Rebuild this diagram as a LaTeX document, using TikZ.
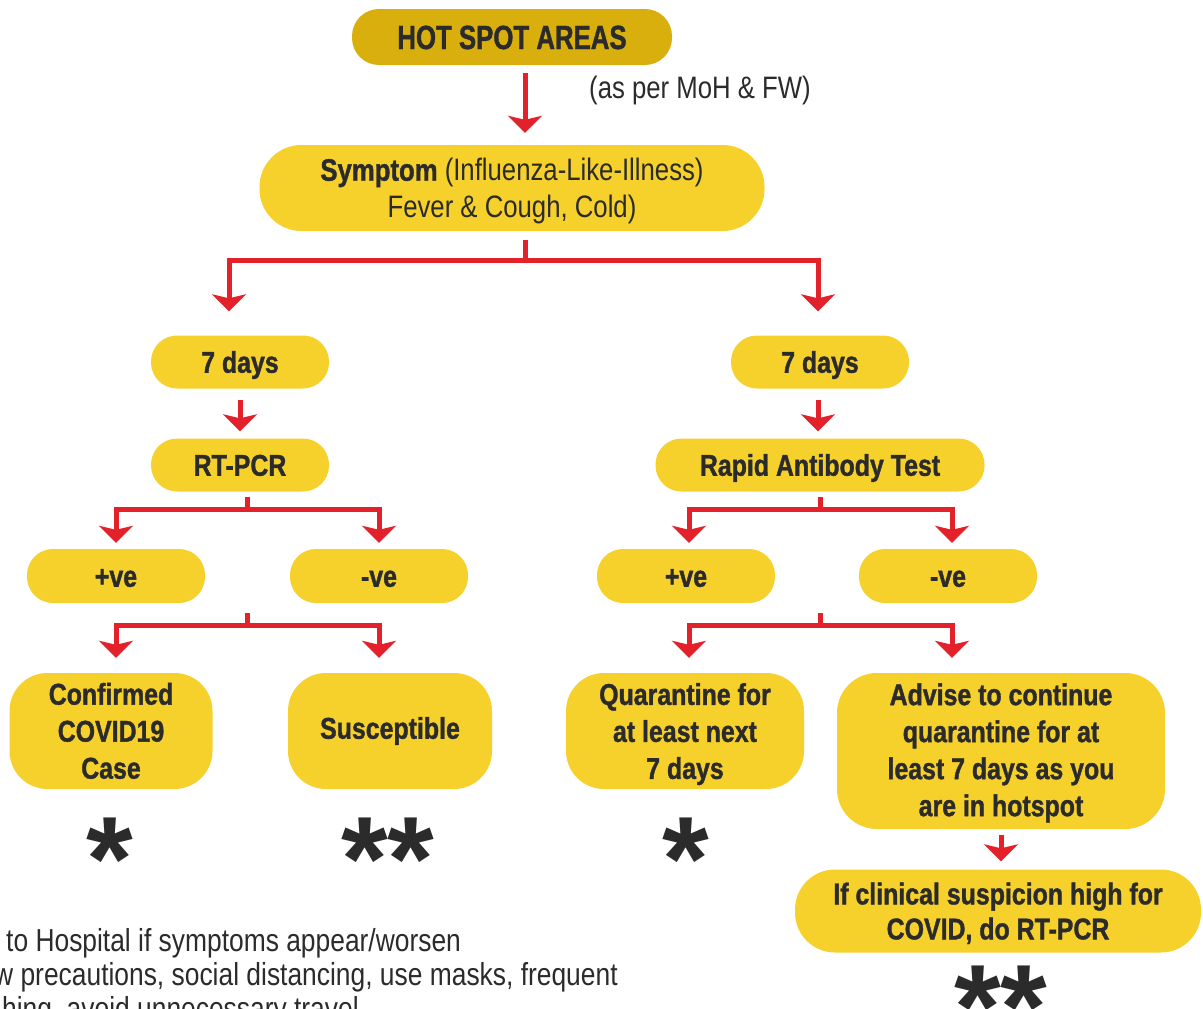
\documentclass[tikz,border=0pt]{standalone}
\usepackage{fontspec}
\setmainfont{Liberation Sans}[FakeStretch=0.83]
\newfontfamily\condbold{Liberation Sans}[FakeStretch=0.83,FakeBold=1.2]
\newfontfamily\titlebold{Liberation Sans}[FakeStretch=0.77,FakeBold=1.2]
\newfontfamily\starfont{Liberation Sans}
\usetikzlibrary{arrows.meta,calc}
\definecolor{gold}{HTML}{D8AF0C}
\definecolor{boxyellow}{HTML}{F6D02B}
\definecolor{linkred}{HTML}{E2212B}
\definecolor{ink}{HTML}{2B2B2B}
\begin{document}
\begin{tikzpicture}[x=1pt,y=-1pt,
  capsule/.style={fill=boxyellow, text=ink, align=center, inner sep=0pt,
    rounded corners=26pt, font=\condbold\bfseries\fontsize{30}{37}\selectfont,
    execute at begin node={\rule{0pt}{26pt}}, text depth=4.5pt},
  card/.style={capsule, rounded corners=38pt},
  link/.style={draw=linkred, line width=5pt, line join=miter,
    -{Stealth[length=17pt,width=34pt,inset=4pt]}},
  stars/.style={text=ink, font=\starfont\bfseries\fontsize{120}{120}\selectfont,
    inner sep=0pt, anchor=base},
  plain/.style={text=ink, inner sep=0pt, font=\fontsize{31}{37}\selectfont},
  footnote/.style={plain, anchor=base west, font=\fontsize{31.8}{37}\selectfont},
]
\useasboundingbox (0,0) rectangle (1203,1009);
\clip (0,0) rectangle (1203,1009);

% top of the chart
\node[capsule, fill=gold, minimum width=320pt, minimum height=56pt, rounded corners=27pt,
  font=\titlebold\bfseries\fontsize{33.5}{40}\selectfont, text depth=2pt] (hot) at (512,37) {HOT SPOT AREAS};
\node[plain] (moh) at (700,90) {(as per MoH \& FW)};
\node[capsule, minimum width=505pt, minimum height=86pt, rounded corners=42pt,
  font=\fontsize{31}{37}\selectfont, text depth=-2.2pt] (sym) at (512,188)
  {{\condbold\bfseries Symptom} (Influenza-Like-Illness)\\Fever \& Cough, Cold)};

% two testing branches
\node[capsule, minimum width=178pt, minimum height=53pt] (d1) at (240,362) {7 days};
\node[capsule, minimum width=178pt, minimum height=53pt] (d2) at (820,362) {7 days};
\node[capsule, minimum width=178pt, minimum height=53pt] (rt) at (240,465) {RT-PCR};
\node[capsule, minimum width=329pt, minimum height=53pt] (rat) at (820,465) {Rapid Antibody Test};

% results
\node[capsule, minimum width=178pt, minimum height=54pt] (p1) at (116,576) {+ve};
\node[capsule, minimum width=178pt, minimum height=54pt] (n1) at (379,576) {-ve};
\node[capsule, minimum width=178pt, minimum height=54pt] (p2) at (686,576) {+ve};
\node[capsule, minimum width=178pt, minimum height=54pt] (n2) at (948,576) {-ve};

% outcomes
\node[card, minimum width=203pt, minimum height=116pt, text depth=0.5pt] (conf) at (111,731) {Confirmed\\COVID19\\Case};
\node[card, minimum width=204pt, minimum height=116pt, text depth=10.5pt] (susc) at (390,731) {Susceptible};
\node[card, minimum width=238pt, minimum height=116pt, text depth=-1.5pt] (quar) at (685,731) {Quarantine for\\at least next\\7 days};
\node[card, minimum width=328pt, minimum height=156pt, rounded corners=40pt, text depth=2.5pt] (adv) at (1001,751)
  {Advise to continue\\quarantine for at\\least 7 days as you\\are in hotspot};
\node[card, minimum width=406pt, minimum height=83pt, rounded corners=40pt, text depth=-3.5pt,
  font=\condbold\bfseries\fontsize{30}{35}\selectfont] (ifc) at (998,911)
  {If clinical suspicion high for\\COVID, do RT-PCR};

% footnote markers
\node[stars] (st1) at (110,900) {*};
\node[stars] (st2) at (388,900) {**};
\node[stars] (st3) at (686,900) {*};
\node[stars] (st4) at (1001,1048) {**};

% connectors
\draw[link] ([xshift=13pt,yshift=-8pt]hot.south) -- ([xshift=13pt,yshift=12pt]sym.north);
\draw[link] ([xshift=13pt,yshift=-9pt]sym.south) -- ++(0,20) -| ([xshift=-11pt,yshift=24pt]d1.north);
\draw[link] ([xshift=13pt,yshift=-9pt]sym.south) -- ++(0,20) -| ([xshift=-2pt,yshift=24pt]d2.north);
\draw[link] ([yshift=-11pt]d1.south) -- ([yshift=7pt]rt.north);
\draw[link] ([xshift=-2pt,yshift=-11pt]d2.south) -- ([xshift=-2pt,yshift=7pt]rat.north);

\draw[link] ([xshift=7pt,yshift=-5pt]rt.south) -- ++(0,13) -| ([yshift=6pt]p1.north);
\draw[link] ([xshift=7pt,yshift=-5pt]rt.south) -- ++(0,13) -| ([yshift=6pt]n1.north);
\draw[link] ([yshift=-5pt]rat.south) -- ++(0,13) -| ([xshift=3pt,yshift=6pt]p2.north);
\draw[link] ([yshift=-5pt]rat.south) -- ++(0,13) -| ([xshift=4pt,yshift=6pt]n2.north);

\coordinate (m1) at ($(p1.south)!0.5!(n1.south)$);
\coordinate (m2) at ($(p2.south)!0.5!(n2.south)$);
\draw[link] ([yshift=-10pt]m1) -- ++(0,12) -| ([xshift=5pt,yshift=15pt]conf.north);
\draw[link] ([yshift=-10pt]m1) -- ++(0,12) -| ([xshift=-11pt,yshift=15pt]susc.north);
\draw[link] ([xshift=3pt,yshift=-10pt]m2) -- ++(0,12) -| ([xshift=4pt,yshift=15pt]quar.north);
\draw[link] ([xshift=3pt,yshift=-10pt]m2) -- ++(0,12) -| ([xshift=-49pt,yshift=15pt]adv.north);

\draw[link] ([yshift=-6pt]adv.south) -- ([xshift=3pt,yshift=8pt]ifc.north);

% footnotes
\node[footnote] (fn1) at (6,951) {to Hospital if symptoms appear/worsen};
\node[footnote] (fn2) at (-6,985) {w precautions, social distancing, use masks, frequent};
\node[footnote] (fn3) at (2,1019) {hing, avoid unnecessary travel};
\end{tikzpicture}
\end{document}
